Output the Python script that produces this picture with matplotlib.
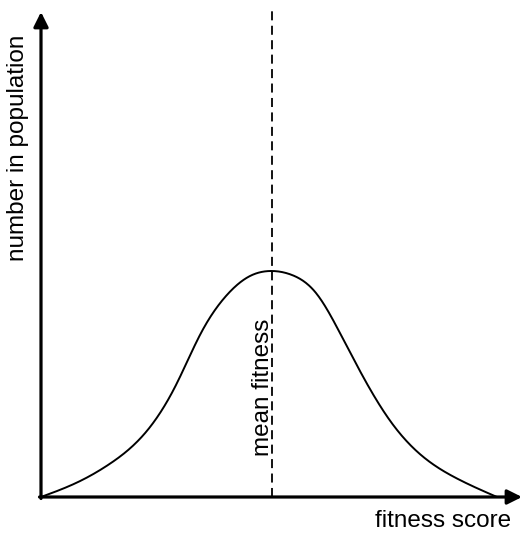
import numpy as np
import matplotlib
matplotlib.use("Agg")
import matplotlib.pyplot as plt

plt.rcParams['font.family'] = ['Liberation Sans', 'DejaVu Sans']

# distribution of fitness scores (score, number of individuals)
fitness_score = [0, 35, 70, 105, 135, 160, 185, 209, 230, 251, 275, 300, 325, 350, 380, 415, 456]
population = [0, 14, 34, 65, 112, 164, 201, 221, 226, 222, 204, 162, 115, 75, 42, 19, 0]
mean_fitness = 231

x_label = "fitness score"
y_label = "number in population"
mean_label = "mean fitness"


def natural_spline(xs, ys, n=600):
    """Natural cubic spline y(x) through the given points."""
    x = np.asarray(xs, float)
    y = np.asarray(ys, float)
    h = np.diff(x)
    m = len(x)
    A = np.zeros((m, m))
    b = np.zeros(m)
    A[0, 0] = A[-1, -1] = 1.0
    for i in range(1, m - 1):
        A[i, i - 1] = h[i - 1]
        A[i, i] = 2 * (h[i - 1] + h[i])
        A[i, i + 1] = h[i]
        b[i] = 6 * ((y[i + 1] - y[i]) / h[i] - (y[i] - y[i - 1]) / h[i - 1])
    M = np.linalg.solve(A, b)
    xx = np.linspace(x[0], x[-1], n)
    k = np.clip(np.searchsorted(x, xx) - 1, 0, m - 2)
    dx1 = x[k + 1] - xx
    dx0 = xx - x[k]
    hk = h[k]
    yy = (M[k] * dx1 ** 3 / (6 * hk) + M[k + 1] * dx0 ** 3 / (6 * hk)
          + (y[k] / hk - M[k] * hk / 6) * dx1 + (y[k + 1] / hk - M[k + 1] * hk / 6) * dx0)
    return xx, yy


fig = plt.figure(figsize=(5.23, 5.34), dpi=100)
ax = fig.add_axes([41 / 523, 37 / 534, 482 / 523, 497 / 534])
ax.set_xlim(0, 482)
ax.set_ylim(0, 497)
ax.axis('off')

# curve
cx, cy = natural_spline(fitness_score, population)
ax.plot(cx, cy, color='black', lw=1.4, solid_capstyle='round')

# mean line
ax.plot([mean_fitness, mean_fitness], [0, 487], color='black', lw=1.3,
        linestyle=(0, (5, 3)), clip_on=False)
ax.text(mean_fitness - 9, 110, mean_label, rotation=90, ha='center', va='center',
        fontsize=17.5)

# axes with arrow heads
arrow = dict(arrowstyle='-|>', lw=2.3, color='black', mutation_scale=22, shrinkA=0, shrinkB=0)
ax.annotate('', xy=(481, 0), xytext=(-1.5, 0), arrowprops=arrow, annotation_clip=False)
ax.annotate('', xy=(0, 485), xytext=(0, -1.5), arrowprops=arrow, annotation_clip=False)

ax.text(-23, 349, y_label, rotation=90, ha='center', va='center', fontsize=17.5, clip_on=False)
ax.text(402, -24, x_label, ha='center', va='center', fontsize=17.5, clip_on=False)

fig.savefig("out.png", dpi=100)
